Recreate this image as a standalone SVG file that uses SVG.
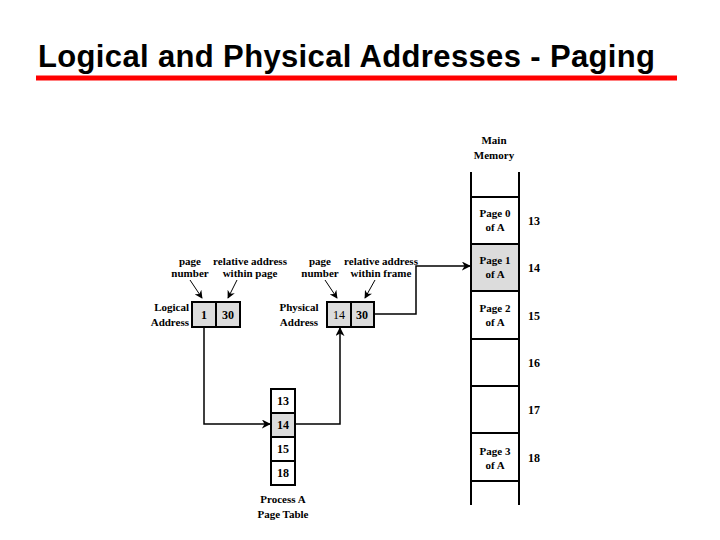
<svg xmlns="http://www.w3.org/2000/svg" width="720" height="540" viewBox="0 0 720 540">
<defs>
<style>
.t{font-family:"Liberation Serif","Times New Roman",serif;font-weight:bold;font-size:11px;fill:#000}
.c{text-anchor:middle}
.n{font-family:"Liberation Serif","Times New Roman",serif;font-weight:bold;font-size:12px;fill:#000}
.box{stroke:#000;stroke-width:2}
.line{fill:none;stroke:#000;stroke-width:1.5}
.thin{fill:none;stroke:#000;stroke-width:1}
</style>
<marker id="ah" viewBox="0 0 10 10" refX="9" refY="5" markerWidth="9" markerHeight="9" markerUnits="userSpaceOnUse" orient="auto">
<path d="M0,0 L10,5 L0,10 L3,5 Z" fill="#000"/>
</marker>
<marker id="sa" viewBox="0 0 10 10" refX="9" refY="5" markerWidth="8" markerHeight="8" markerUnits="userSpaceOnUse" orient="auto">
<path d="M0,0 L10,5 L0,10 L3,5 Z" fill="#000"/>
</marker>
</defs>
<rect width="720" height="540" fill="#fff"/>
<g id="title">
<text x="38" y="67" font-family="'Liberation Sans',Arial,sans-serif" font-weight="bold" font-size="31" textLength="617" lengthAdjust="spacing" fill="#000">Logical and Physical Addresses - Paging</text>
<rect x="36" y="75.500" width="641" height="5" fill="#ff0000"/>
</g>
<g id="main-memory">
<text class="t c" x="494" y="144">Main</text>
<text class="t c" x="494" y="159">Memory</text>
<rect x="471" y="244" width="48" height="47" fill="#dcdcdc"/>
<path class="box" fill="none" d="M471,172 V505 M519,172 V505 M471,197 H519 M471,244 H519 M471,291 H519 M471,339 H519 M471,386 H519 M471,433 H519 M471,481 H519"/>
<text class="t c" x="495" y="217">Page 0</text><text class="t c" x="495" y="231">of A</text>
<text class="t c" x="495" y="264">Page 1</text><text class="t c" x="495" y="278">of A</text>
<text class="t c" x="495" y="312">Page 2</text><text class="t c" x="495" y="326">of A</text>
<text class="t c" x="495" y="455">Page 3</text><text class="t c" x="495" y="469">of A</text>
<text class="n" x="528" y="225">13</text>
<text class="n" x="528" y="272">14</text>
<text class="n" x="528" y="320">15</text>
<text class="n" x="528" y="367">16</text>
<text class="n" x="528" y="414">17</text>
<text class="n" x="528" y="462">18</text>
</g>
<g id="logical-address">
<text class="t" x="189" y="311" text-anchor="end">Logical</text>
<text class="t" x="189" y="326" text-anchor="end">Address</text>
<rect class="box" x="192" y="302" width="24" height="25" fill="#dcdcdc"/>
<rect class="box" x="216" y="302" width="24" height="25" fill="#dcdcdc"/>
<text class="n c" x="204" y="319">1</text>
<text class="n c" x="228" y="319">30</text>
<text class="t c" x="190" y="265">page</text>
<text class="t c" x="190" y="277">number</text>
<text class="t c" x="250" y="265">relative address</text>
<text class="t c" x="250" y="277">within page</text>
</g>
<g id="physical-address">
<text class="t c" x="299" y="311">Physical</text>
<text class="t c" x="299" y="326">Address</text>
<rect class="box" x="327" y="302" width="24" height="25" fill="#dcdcdc"/>
<rect class="box" x="351" y="302" width="23" height="25" fill="#dcdcdc"/>
<text class="c" x="339" y="319" font-family="'Liberation Serif','Times New Roman',serif" font-size="12">14</text>
<text class="n c" x="362" y="319">30</text>
<text class="t c" x="320" y="265">page</text>
<text class="t c" x="320" y="277">number</text>
<text class="t c" x="381" y="265">relative address</text>
<text class="t c" x="381" y="277">within frame</text>
</g>
<g id="page-table">
<rect x="271" y="413" width="24" height="24" fill="#dcdcdc"/>
<path class="box" fill="none" d="M271,389 H295 V485 H271 Z M271,413 H295 M271,437 H295 M271,461 H295"/>
<text class="n c" x="283" y="405">13</text>
<text class="n c" x="283" y="429">14</text>
<text class="n c" x="283" y="453">15</text>
<text class="n c" x="283" y="477">18</text>
<text class="t c" x="283" y="503">Process A</text>
<text class="t c" x="283" y="518">Page Table</text>
</g>
<g id="connectors">
<path class="line" d="M204,328 V424 H270" marker-end="url(#ah)"/>
<path class="line" d="M296,424 H340 V328" marker-end="url(#ah)"/>
<path class="line" d="M375,314 H416 V266 H470" marker-end="url(#ah)"/>
<path class="thin" d="M190,280 L202,298" marker-end="url(#sa)"/>
<path class="thin" d="M237,280 L228,298" marker-end="url(#sa)"/>
<path class="thin" d="M325,280 L337,298" marker-end="url(#sa)"/>
<path class="thin" d="M375,280 L365,298" marker-end="url(#sa)"/>
</g>
</svg>
